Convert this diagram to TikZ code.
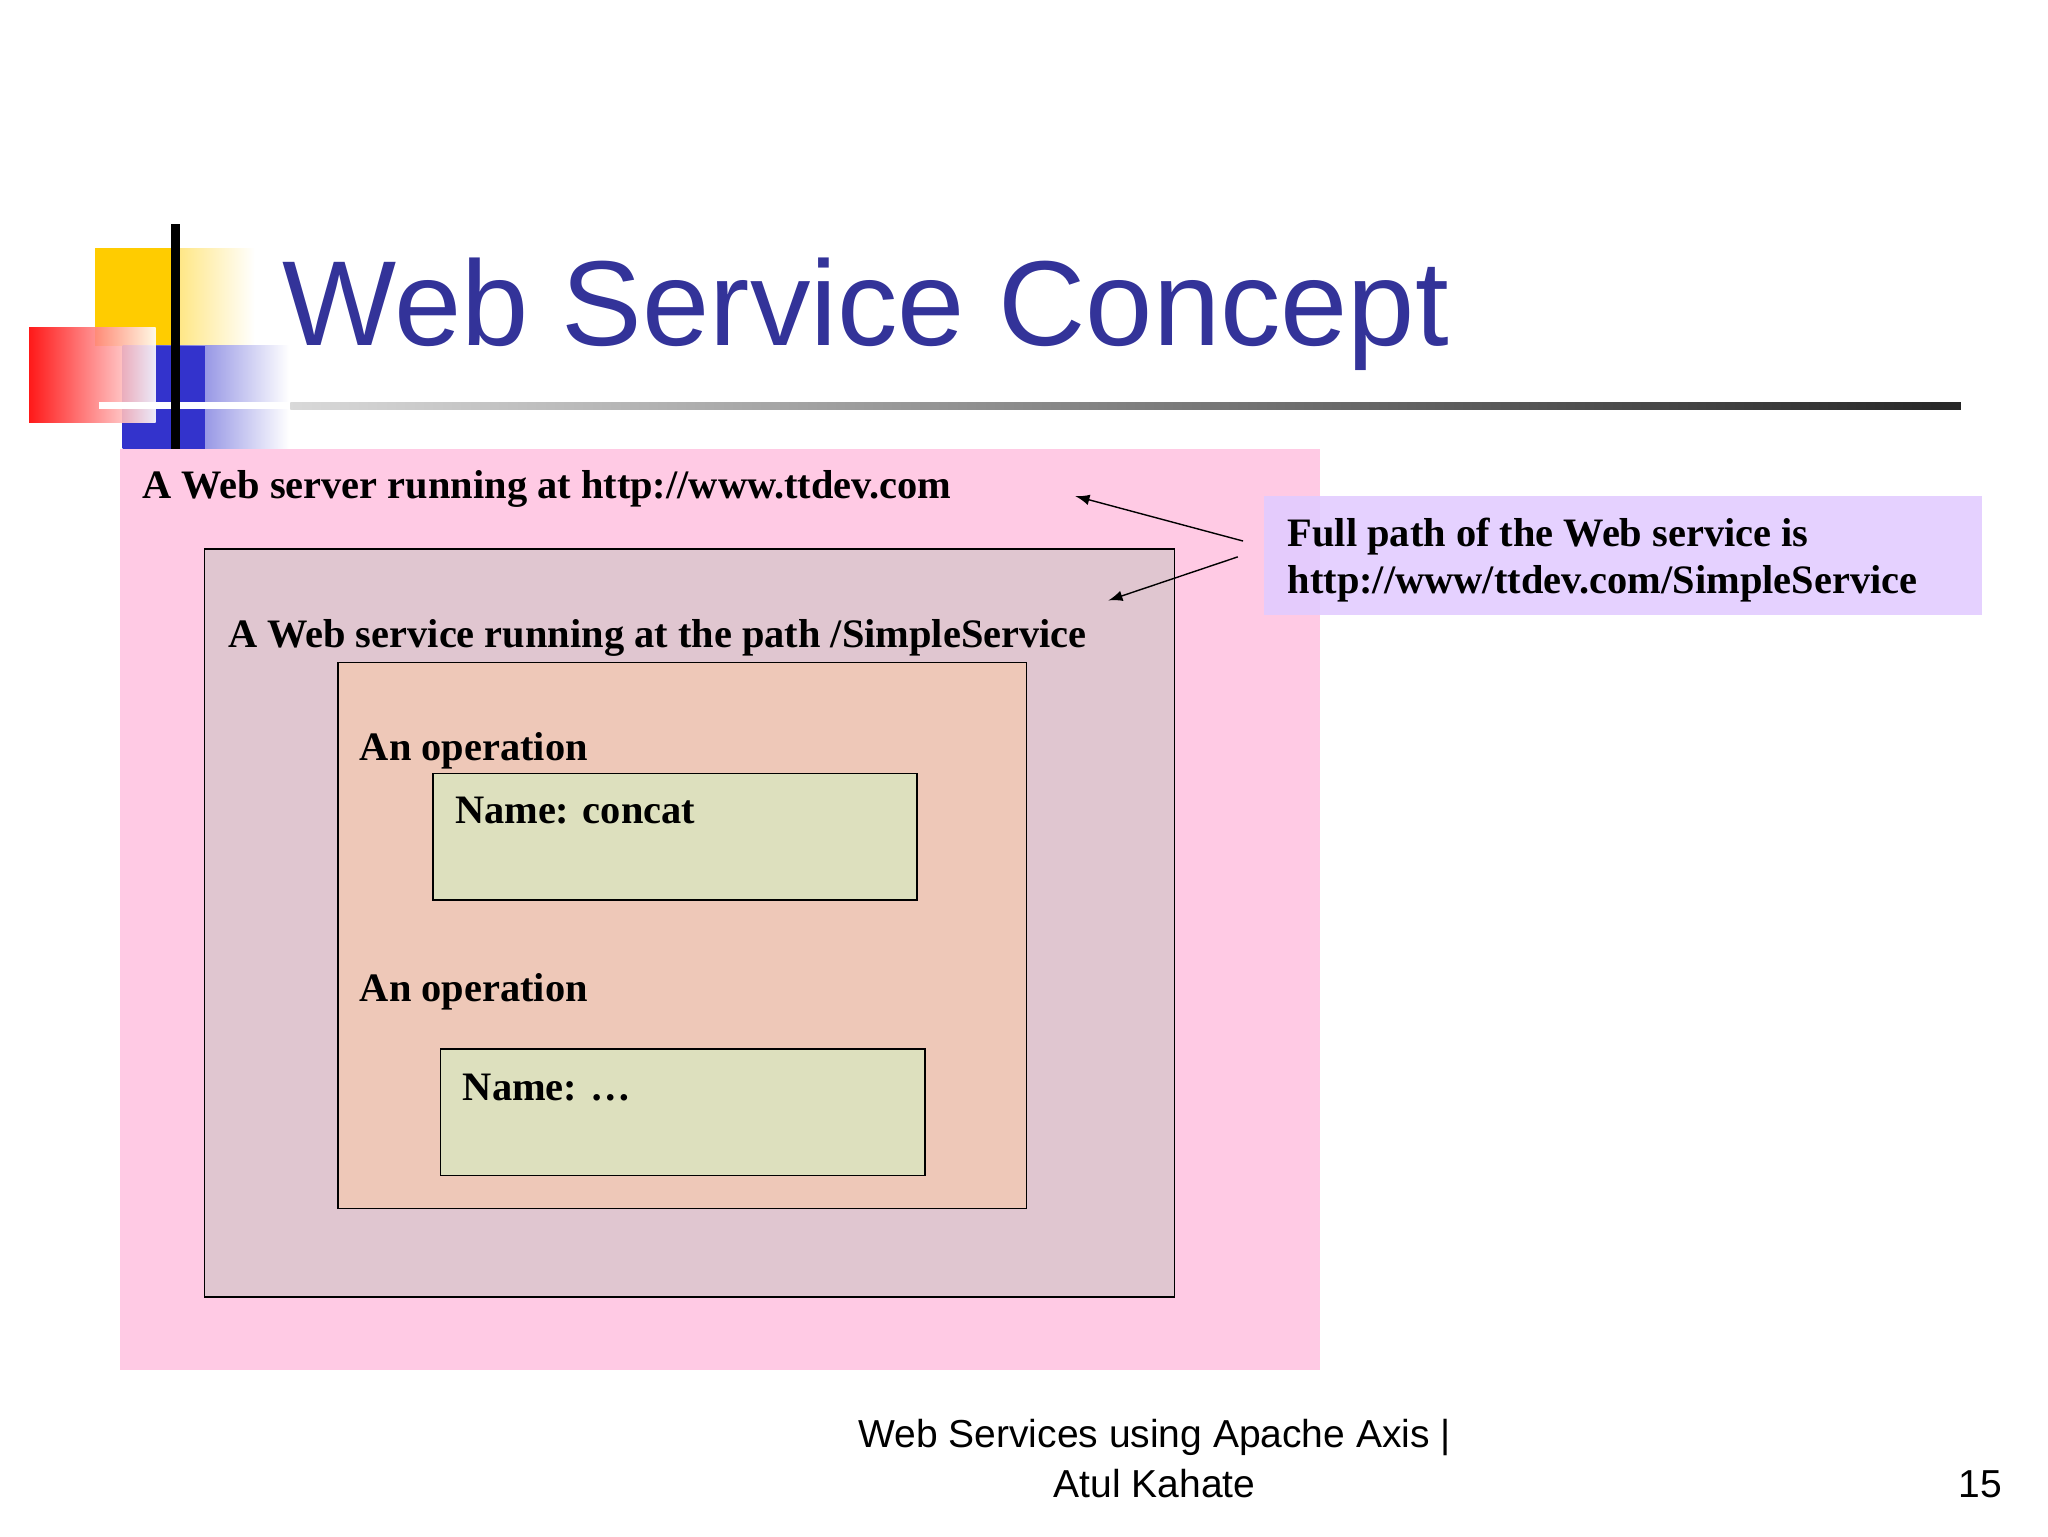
\documentclass[tikz,border=0pt]{standalone}
\usepackage{fontspec}
\setmainfont{Liberation Serif}
\newfontfamily\sansf{Liberation Sans}
\usetikzlibrary{arrows}
\definecolor{titleblue}{RGB}{51,51,153}
\definecolor{serverpink}{RGB}{255,202,228}
\definecolor{servicegray}{RGB}{224,198,208}
\definecolor{oppeach}{RGB}{238,200,184}
\definecolor{namegreen}{RGB}{221,224,190}
\definecolor{notelilac}{RGB}{226,204,255}
\definecolor{logoyellow}{RGB}{255,204,0}
\definecolor{logoblue}{RGB}{51,51,204}
\tikzset{
  box/.style={draw=black,thin},
  lbl/.style={anchor=base west,inner sep=0pt,font=\bfseries\fontsize{11.5}{14}\selectfont},
  foot/.style={inner sep=0pt,font=\sansf\fontsize{11.1}{13}\selectfont},
}
\begin{document}
\begin{tikzpicture}[x=0.0132cm,y=-0.0132cm,semithick]
\useasboundingbox (0,0) rectangle (1552,1164);
% logo
\shade[left color=logoyellow,right color=white] (72,188) rectangle (193,262);
\fill[logoyellow] (72,188) rectangle (130,262);
\shade[left color=logoblue,right color=white] (93,262) rectangle (219,340);
\fill[logoblue] (93,262) rectangle (155,340);
\shade[left color=red,right color=white,opacity=.9] (22,248) rectangle (118,320);
\draw[white,line width=2pt] (75,307) -- (220,307);
\draw[black,line width=2.5pt] (133,170) -- (133,348);
\shade[left color=gray!30,right color=black!85] (220,305) rectangle (1486,310);
\node[anchor=base west,inner sep=0pt,text=titleblue,font=\sansf\fontsize{34.4}{40}\selectfont] (title) at (213,262) {Web Service Concept};
% boxes
\fill[serverpink] (91,340) rectangle (1000,1038);
\filldraw[box,fill=servicegray] (155,416) rectangle (890,983);
\filldraw[box,fill=oppeach] (256,502) rectangle (778,916);
\filldraw[box,fill=namegreen] (328,586) rectangle (695,682);
\filldraw[box,fill=namegreen] (334,795) rectangle (701,891);
\fill[notelilac,opacity=.9] (958,376) rectangle (1502,466);
% texts
\node[lbl] (server) at (107,378) {A Web server running at http://www.ttdev.com};
\node[lbl] (service) at (172,491) {A Web service running at the path /SimpleService};
\node[lbl] (op1) at (272,576) {An operation};
\node[lbl] (name1) at (344,624) {Name: concat};
\node[lbl] (op2) at (272,759) {An operation};
\node[lbl] (name2) at (350,834) {Name: \dots};
\node[lbl] (note) at (975,414) {Full path of the Web service is};
\node[lbl] (note2) at (975,450) {http://www/ttdev.com/SimpleService};
% arrows
\coordinate (a1) at (942,410);
\coordinate (a2) at (938,422);
\coordinate (t1) at (815,376);
\coordinate (t2) at (840,455);
\draw[-latex,thin] (a1) -- (t1);
\draw[-latex,thin] (a2) -- (t2);
% footer
\node[foot,anchor=base] (foot1) at (875,1097) {Web Services using Apache Axis |};
\node[foot,anchor=base] (foot2) at (875,1135) {Atul Kahate};
\node[foot,anchor=base east] (page) at (1518,1135) {15};
\end{tikzpicture}
\end{document}
